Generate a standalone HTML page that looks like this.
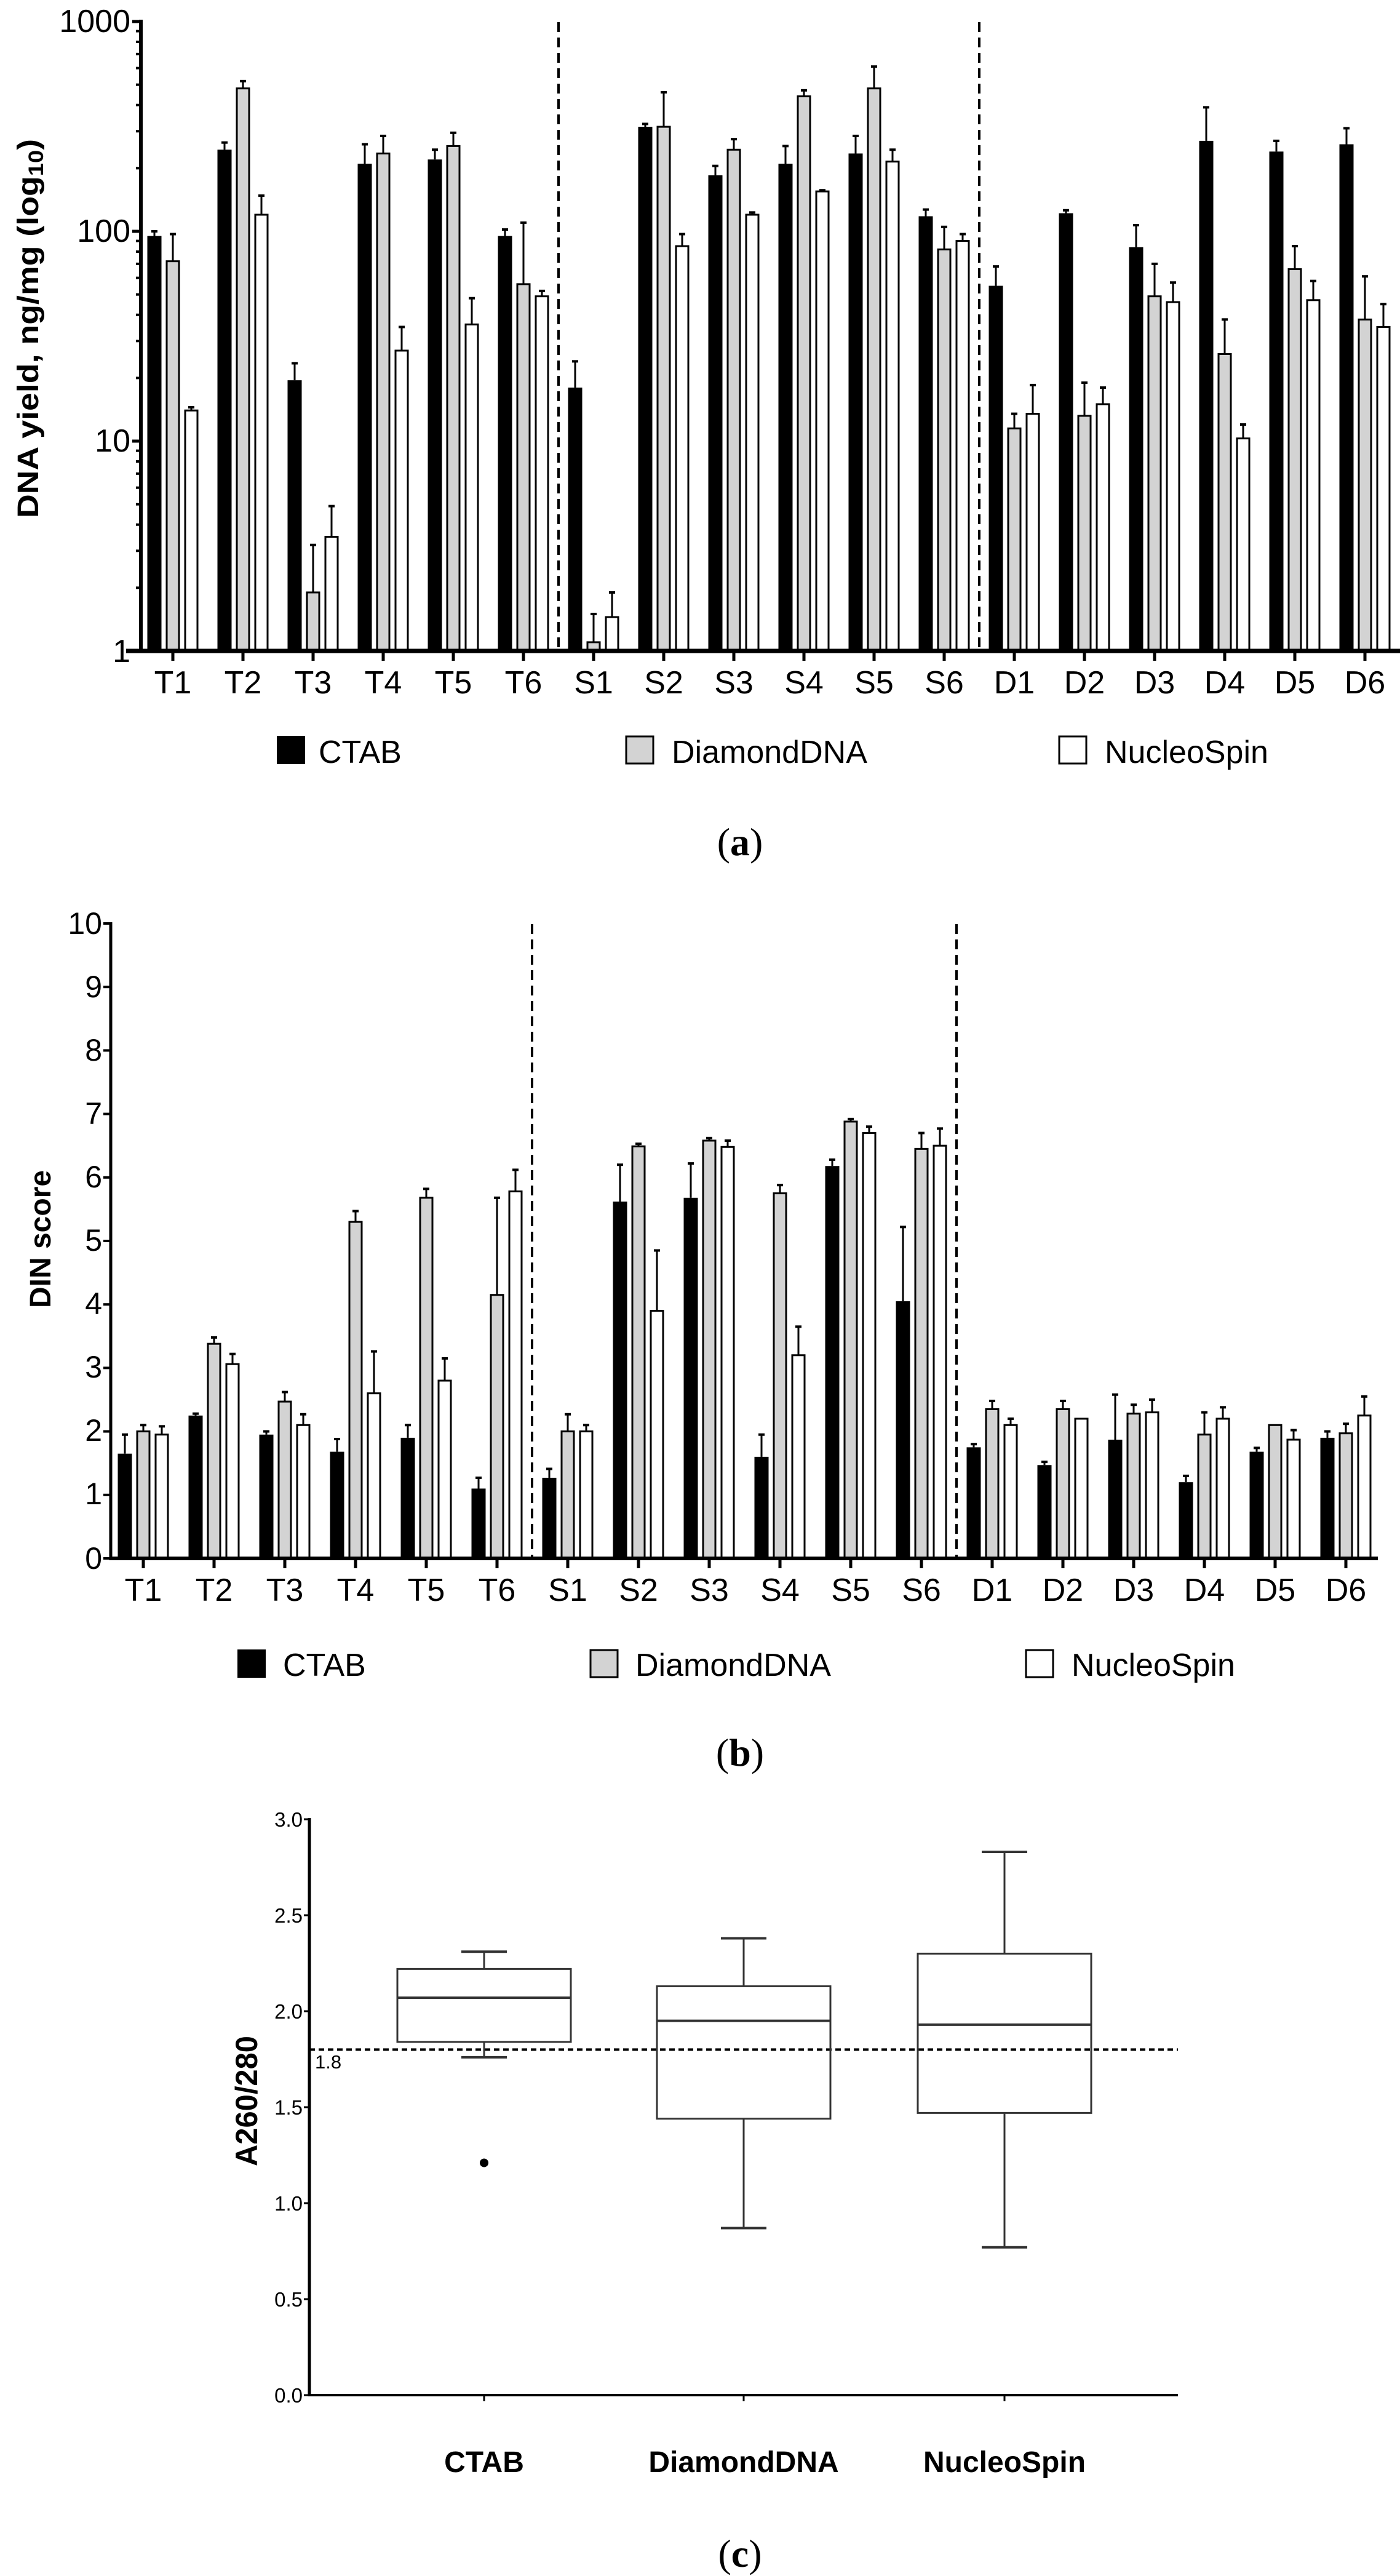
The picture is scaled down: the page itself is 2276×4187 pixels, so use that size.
<!DOCTYPE html>
<html><head><meta charset="utf-8"><style>
html,body{margin:0;padding:0;background:#fff;}
svg{display:block;}
text{font-family:"Liberation Sans",sans-serif;fill:#000;}
</style></head><body>
<svg id="s" width="2276" height="4187" viewBox="0 0 2276 4187" xmlns="http://www.w3.org/2000/svg">
<!-- ===== Chart (a) ===== -->
<g id="ga"></g>
<g font-size="52" text-anchor="end">
<text x="212" y="52">1000</text>
<text x="212" y="393">100</text>
<text x="212" y="734">10</text>
<text x="212" y="1076">1</text>
</g>
<text transform="translate(62,534) rotate(-90)" text-anchor="middle" font-size="48" font-weight="bold" textLength="616" lengthAdjust="spacingAndGlyphs">DNA yield, ng/mg (log<tspan font-size="34" dy="8">10</tspan><tspan dy="-8">)</tspan></text>
<g font-size="52" text-anchor="middle">
<text x="281" y="1127">T1</text><text x="395" y="1127">T2</text><text x="509" y="1127">T3</text><text x="623" y="1127">T4</text><text x="737" y="1127">T5</text><text x="851" y="1127">T6</text>
<text x="965" y="1127">S1</text><text x="1079" y="1127">S2</text><text x="1193" y="1127">S3</text><text x="1307" y="1127">S4</text><text x="1421" y="1127">S5</text><text x="1535" y="1127">S6</text>
<text x="1649" y="1127">D1</text><text x="1763" y="1127">D2</text><text x="1877" y="1127">D3</text><text x="1991" y="1127">D4</text><text x="2105" y="1127">D5</text><text x="2219" y="1127">D6</text>
</g>
<rect x="450" y="1196" width="46" height="46" fill="#000"/>
<rect x="1018" y="1197" width="44" height="44" fill="#d3d3d3" stroke="#000" stroke-width="3"/>
<rect x="1722" y="1197" width="44" height="44" fill="#fff" stroke="#000" stroke-width="3"/>
<g font-size="52"><text x="518" y="1240">CTAB</text><text x="1092" y="1240">DiamondDNA</text><text x="1796" y="1240">NucleoSpin</text></g>
<text x="1203" y="1390" text-anchor="middle" font-size="64" style="font-family:'Liberation Serif',serif">(<tspan font-weight="bold">a</tspan>)</text>

<!-- ===== Chart (b) ===== -->
<g id="gb"></g>
<g font-size="50" text-anchor="end">
<text x="166" y="1518">10</text><text x="166" y="1621">9</text><text x="166" y="1724">8</text><text x="166" y="1827">7</text><text x="166" y="1930">6</text><text x="166" y="2033">5</text><text x="166" y="2136">4</text><text x="166" y="2239">3</text><text x="166" y="2342">2</text><text x="166" y="2445">1</text><text x="166" y="2550">0</text>
</g>
<text transform="translate(82,2014) rotate(-90)" text-anchor="middle" font-size="48" font-weight="bold">DIN score</text>
<g font-size="52" text-anchor="middle">
<text x="233" y="2602">T1</text><text x="348" y="2602">T2</text><text x="463" y="2602">T3</text><text x="578" y="2602">T4</text><text x="693" y="2602">T5</text><text x="808" y="2602">T6</text>
<text x="923" y="2602">S1</text><text x="1038" y="2602">S2</text><text x="1153" y="2602">S3</text><text x="1268" y="2602">S4</text><text x="1383" y="2602">S5</text><text x="1498" y="2602">S6</text>
<text x="1613" y="2602">D1</text><text x="1728" y="2602">D2</text><text x="1843" y="2602">D3</text><text x="1958" y="2602">D4</text><text x="2073" y="2602">D5</text><text x="2188" y="2602">D6</text>
</g>
<rect x="386" y="2681" width="46" height="46" fill="#000"/>
<rect x="960" y="2682" width="44" height="44" fill="#d3d3d3" stroke="#000" stroke-width="3"/>
<rect x="1668" y="2682" width="44" height="44" fill="#fff" stroke="#000" stroke-width="3"/>
<g font-size="52"><text x="460" y="2724">CTAB</text><text x="1033" y="2724">DiamondDNA</text><text x="1742" y="2724">NucleoSpin</text></g>
<text x="1203" y="2870" text-anchor="middle" font-size="64" style="font-family:'Liberation Serif',serif">(<tspan font-weight="bold">b</tspan>)</text>

<!-- ===== Chart (c) ===== -->
<g id="gc"></g>
<g font-size="33" text-anchor="end">
<text x="492" y="2969">3.0</text><text x="492" y="3125">2.5</text><text x="492" y="3281">2.0</text><text x="492" y="3437">1.5</text><text x="492" y="3593">1.0</text><text x="492" y="3749">0.5</text><text x="492" y="3905">0.0</text>
</g>
<text x="512" y="3362" font-size="31">1.8</text>
<text transform="translate(418,3415) rotate(-90)" text-anchor="middle" font-size="50" font-weight="bold" textLength="212" lengthAdjust="spacingAndGlyphs">A260/280</text>
<g font-size="48" font-weight="bold" text-anchor="middle">
<text x="787" y="4018">CTAB</text><text x="1209" y="4018">DiamondDNA</text><text x="1633" y="4018">NucleoSpin</text>
</g>
<text x="1203" y="4172" text-anchor="middle" font-size="64" style="font-family:'Liberation Serif',serif">(<tspan font-weight="bold">c</tspan>)</text>
</svg>
<script>
var NS="http://www.w3.org/2000/svg";
function el(p,t,a){var e=document.createElementNS(NS,t);for(var k in a)e.setAttribute(k,a[k]);p.appendChild(e);return e;}
// ---- (a)
var ga=document.getElementById('ga');
var A=[[95,72,14,100,97,14.5],[245,480,120,265,520,148],[19.5,1.9,3.5,23.5,3.2,4.9],[210,235,27,260,285,35],[220,255,36,245,295,48],[95,56,49,102,110,52],
[18,1.1,1.45,24,1.5,1.9],[315,315,85,325,460,97],[185,245,120,205,275,123],[210,440,155,255,470,157],[235,480,215,285,610,245],[118,82,90,127,105,97],
[55,11.5,13.5,68,13.5,18.5],[122,13.2,15,126,19,18],[84,49,46,107,70,57],[270,26,10.3,390,38,12],[240,66,47,270,85,58],[260,38,35,310,61,45]];
function ya(v){return 1058-341*Math.log10(v);}
function bars(g,data,x0,dx,yf,base){
 for(var i=0;i<data.length;i++){var cx=x0+i*dx,d=data[i];
  for(var j=0;j<3;j++){var bx=cx+(j-1)*30-11.5,top=yf(d[j]),et=yf(d[j+3]),mx=bx+11.5;
   if(et<top-1){el(g,'line',{x1:mx,y1:top,x2:mx,y2:et,stroke:'#000','stroke-width':3});
    el(g,'line',{x1:mx-5,y1:et,x2:mx+5,y2:et,stroke:'#000','stroke-width':4});}
   if(j==0)el(g,'rect',{x:bx,y:top,width:23,height:base-top,fill:'#000'});
   else el(g,'rect',{x:bx+1.5,y:top,width:20,height:base-top,fill:j==1?'#d3d3d3':'#fff',stroke:'#000','stroke-width':3});
  }
  el(g,'line',{x1:cx,y1:base,x2:cx,y2:base+16,stroke:'#000','stroke-width':5});
 }}
bars(ga,A,281,114,ya,1058);
el(ga,'line',{x1:229,y1:32,x2:229,y2:1061,stroke:'#000','stroke-width':6});
el(ga,'line',{x1:205,y1:1058,x2:2276,y2:1058,stroke:'#000','stroke-width':7});
for(var d=0;d<3;d++){var b=Math.pow(10,d);el(ga,'line',{x1:215,y1:ya(b),x2:229,y2:ya(b),stroke:'#000','stroke-width':5});
 for(var m=2;m<10;m++){el(ga,'line',{x1:221,y1:ya(b*m),x2:229,y2:ya(b*m),stroke:'#000','stroke-width':4});}}
el(ga,'line',{x1:215,y1:ya(1000),x2:229,y2:ya(1000),stroke:'#000','stroke-width':5});
[908,1592].forEach(function(x){el(ga,'line',{x1:x,y1:36,x2:x,y2:1056,stroke:'#000','stroke-width':4,'stroke-dasharray':'16,9'});});
// ---- (b)
var gb=document.getElementById('gb');
var B=[[1.65,2.0,1.95,1.95,2.1,2.08],[2.25,3.38,3.06,2.28,3.48,3.22],[1.95,2.47,2.1,2.0,2.62,2.27],[1.68,5.3,2.6,1.88,5.47,3.26],[1.9,5.68,2.8,2.1,5.82,3.15],[1.1,4.15,5.78,1.27,5.68,6.12],
[1.27,2.0,2.0,1.41,2.27,2.1],[5.62,6.49,3.9,6.2,6.53,4.85],[5.68,6.58,6.48,6.22,6.62,6.58],[1.6,5.75,3.2,1.95,5.88,3.65],[6.18,6.88,6.7,6.28,6.92,6.8],[4.05,6.45,6.5,5.22,6.7,6.77],
[1.75,2.35,2.1,1.8,2.48,2.2],[1.47,2.35,2.2,1.52,2.48,2.2],[1.87,2.28,2.3,2.58,2.42,2.5],[1.2,1.95,2.2,1.3,2.3,2.38],[1.68,2.1,1.87,1.74,2.1,2.02],[1.9,1.97,2.25,2.0,2.12,2.55]];
function yb(v){return 2533-103.2*v;}
bars(gb,B,233,115,yb,2533);
el(gb,'line',{x1:180,y1:1499,x2:180,y2:2536,stroke:'#000','stroke-width':5});
el(gb,'line',{x1:178,y1:2533,x2:2240,y2:2533,stroke:'#000','stroke-width':6});
for(var k=0;k<=10;k++)el(gb,'line',{x1:168,y1:yb(k),x2:180,y2:yb(k),stroke:'#000','stroke-width':4});
[865,1555].forEach(function(x){el(gb,'line',{x1:x,y1:1502,x2:x,y2:2531,stroke:'#000','stroke-width':4,'stroke-dasharray':'16,9'});});
// ---- (c)
var gc=document.getElementById('gc');
function yc(v){return 3893-312*v;}
el(gc,'line',{x1:503,y1:2955,x2:503,y2:3895,stroke:'#000','stroke-width':5});
el(gc,'line',{x1:501,y1:3893,x2:1915,y2:3893,stroke:'#000','stroke-width':4});
for(var k=0;k<=6;k++)el(gc,'line',{x1:494,y1:yc(k*0.5),x2:503,y2:yc(k*0.5),stroke:'#000','stroke-width':3});
[787,1209,1633].forEach(function(x){el(gc,'line',{x1:x,y1:3893,x2:x,y2:3903,stroke:'#000','stroke-width':3});});
el(gc,'line',{x1:503,y1:yc(1.8),x2:1915,y2:yc(1.8),stroke:'#000','stroke-width':4,'stroke-dasharray':'9,6'});
var C=[[787,1.76,1.84,2.07,2.22,2.31],[1209,0.87,1.44,1.95,2.13,2.38],[1633,0.77,1.47,1.93,2.30,2.83]];
C.forEach(function(c){var x=c[0],L=x-141,R=x+141;
 el(gc,'rect',{x:L,y:yc(c[4]),width:282,height:yc(c[2])-yc(c[4]),fill:'none',stroke:'#333','stroke-width':3});
 el(gc,'line',{x1:L,y1:yc(c[3]),x2:R,y2:yc(c[3]),stroke:'#333','stroke-width':4});
 el(gc,'line',{x1:x,y1:yc(c[4]),x2:x,y2:yc(c[5]),stroke:'#333','stroke-width':3});
 el(gc,'line',{x1:x,y1:yc(c[2]),x2:x,y2:yc(c[1]),stroke:'#333','stroke-width':3});
 el(gc,'line',{x1:x-37,y1:yc(c[5]),x2:x+37,y2:yc(c[5]),stroke:'#333','stroke-width':4});
 el(gc,'line',{x1:x-37,y1:yc(c[1]),x2:x+37,y2:yc(c[1]),stroke:'#333','stroke-width':4});
});
el(gc,'circle',{cx:787,cy:yc(1.21),r:7,fill:'#000'});
</script>
</body></html>
